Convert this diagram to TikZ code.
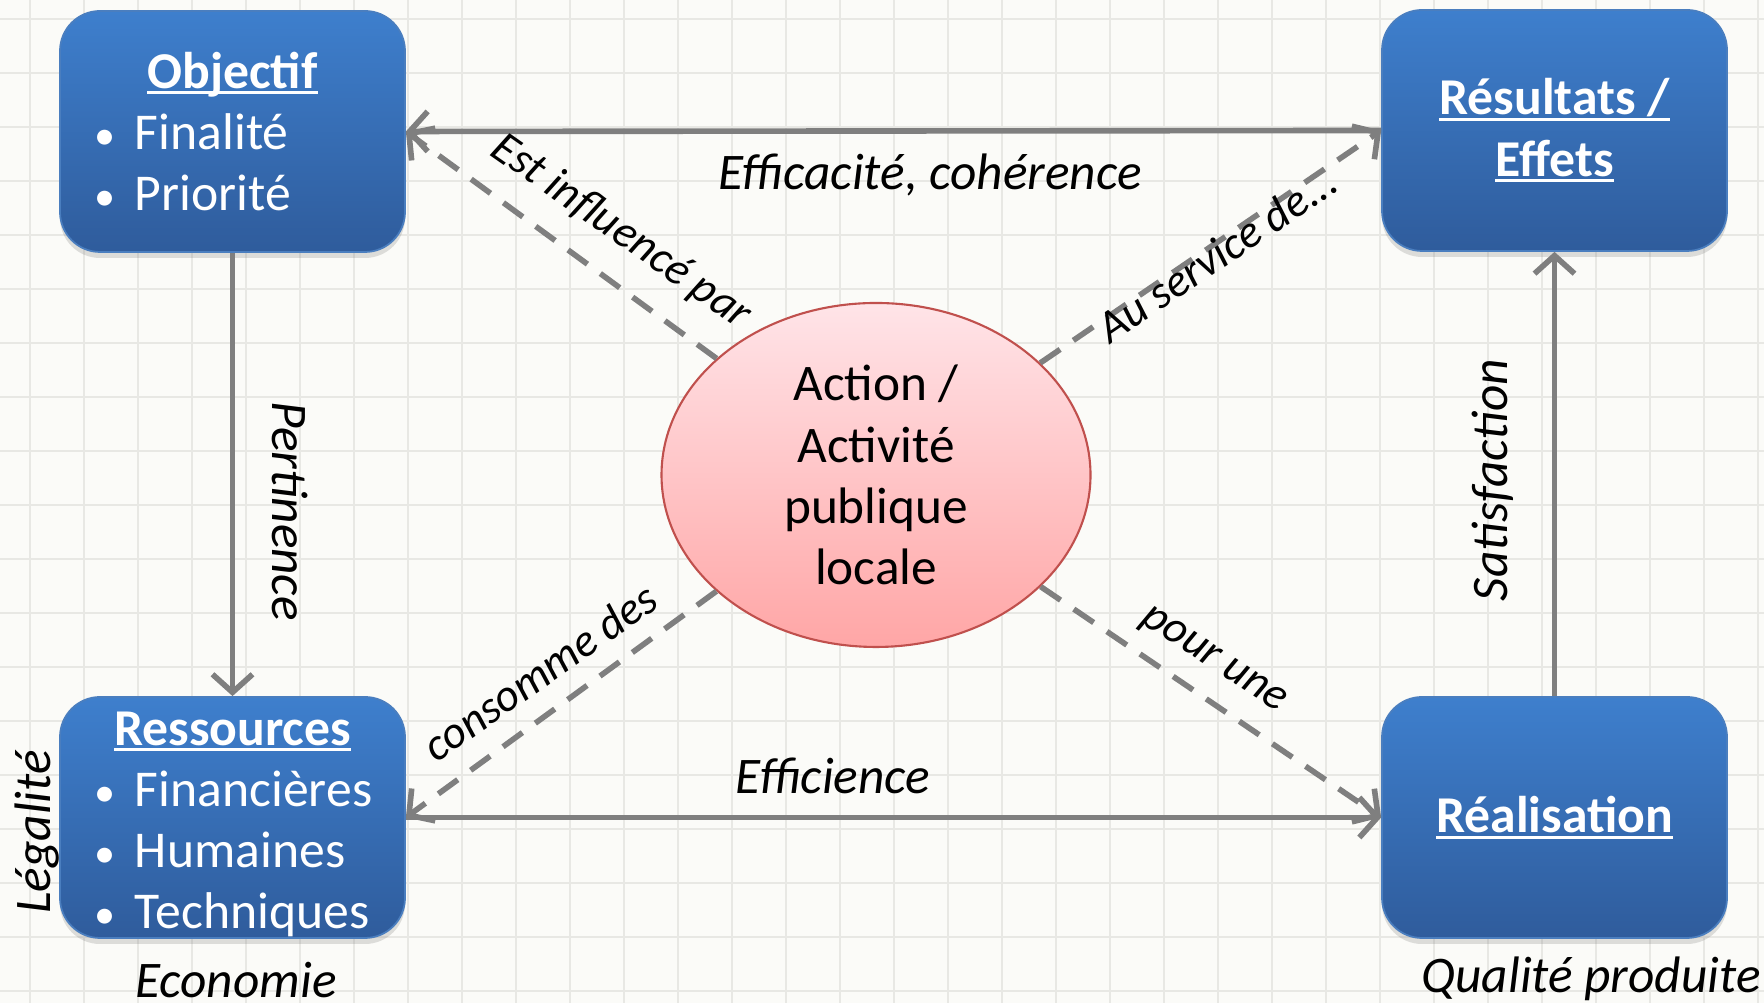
\documentclass[tikz,border=0pt]{standalone}
\usepackage{fontspec}
\setmainfont{Carlito}
\usetikzlibrary{arrows.meta,shapes.geometric,shadows}

\definecolor{fond}{HTML}{FBFBF8}
\definecolor{grillegris}{HTML}{E8E8E4}
\definecolor{bleuhaut}{HTML}{3E7FCD}
\definecolor{bleubas}{HTML}{2F5C9C}
\definecolor{bleubord}{HTML}{4A7EBF}
\definecolor{rosehaut}{HTML}{FFE4E8}
\definecolor{rosebas}{HTML}{FFA6A6}
\definecolor{rougebord}{HTML}{C0504D}
\definecolor{grisfleche}{HTML}{7F7F7F}

\newcommand\titre[1]{\setbox0\hbox{\bfseries#1}\rlap{\rule[-0.12em]{\wd0}{0.06em}}\box0}
\newcommand\puce[1]{\makebox[0.4cm][l]{\fontsize{12}{12}\selectfont\textbullet}#1}

\tikzset{
  grille/.style={draw=grillegris, line width=0.5pt},
  boite/.style={rounded corners=0.4cm, minimum width=3.45cm, minimum height=2.41cm,
    top color=bleuhaut, bottom color=bleubas, draw=bleubord, line width=0.5pt,
    text=white, inner sep=0pt, font=\fontsize{14.7}{17.4}\selectfont,
    drop shadow={shadow xshift=0pt, shadow yshift=-0.06cm, opacity=0.25}},
  liste/.style={boite, text width=2.75cm, align=left},
  bulle/.style={ellipse, minimum width=4.29cm, minimum height=3.44cm, inner sep=0pt,
    top color=rosehaut, bottom color=rosebas, draw=rougebord, line width=0.6pt,
    align=center, font=\fontsize{14.6}{17.4}\selectfont},
  etiq/.style={font=\fontsize{14.6}{16}\selectfont\itshape, inner sep=0pt},
  etiqdiag/.style={font=\fontsize{13}{15}\selectfont\itshape, inner sep=0pt},
  trait/.style={draw=grisfleche, line width=1.6pt},
  tirets/.style={trait, dash pattern=on 0.24cm off 0.16cm}
}

\begin{document}
\begin{tikzpicture}[>={Straight Barb[length=1.8mm,width=4mm]}]
\useasboundingbox (0,0) rectangle (17.64,10.03);
\fill[fond] (0,0) rectangle (17.64,10.03);
\foreach \i in {0,...,32} \draw[grille] ({0.30+0.54*\i},0)--({0.30+0.54*\i},10.03);
\foreach \j in {0,...,18} \draw[grille] (0,{9.84-0.54*\j})--(17.64,{9.84-0.54*\j});

\node[liste] (obj) at (2.325,8.715) {\makebox[2.75cm][c]{\titre{Objectif}}\\ \puce{Finalité}\\ \puce{Priorité}};
\node[boite, align=center] (res) at (15.545,8.725) {\titre{Résultats /}\\ \titre{Effets}};
\node[liste] (ress) at (2.325,1.855) {\makebox[2.75cm][c]{\rule{0pt}{0.47cm}\titre{Ressources}}\\ \puce{Financières}\\ \puce{Humaines}\\ \puce{Techniques}};
\node[boite, align=center] (real) at (15.545,1.855) {\titre{Réalisation}};
\node[bulle] (act) at (8.76,5.28) {Action /\\Activité\\publique\\locale};

\draw[trait,->] (res.west)--(obj.east);
\draw[trait,->] (ress.east)--(real.west);
\draw[trait,->] (obj.south)--(ress.north);
\draw[trait,->] (real.north)--(res.south);
\draw[tirets,->] (act)--(obj.east);
\draw[tirets,->] (act)--(res.west);
\draw[tirets,->] (act)--(ress.east);
\draw[tirets,->] (act)--(real.west);

\node[etiq] (l1) at (9.30,8.28) {Efficacité, cohérence};
\node[etiq] (l2) at (8.33,2.27) {Efficience};
\node[etiq, rotate=-90] (l3) at (2.90,4.92) {Pertinence};
\node[etiq, rotate=90] (l4) at (14.93,5.23) {Satisfaction};
\node[etiq, rotate=90] (l5) at (0.37,1.71) {Légalité};
\node[etiq] (l6) at (2.36,0.23) {Economie};
\node[etiq] (l7) at (15.91,0.24) {Qualité produite};
\node[etiqdiag, rotate=-35] (l8) at (6.21,7.71) {Est influencé par};
\node[etiqdiag, rotate=34] (l9) at (12.17,7.49) {Au service de...};
\node[etiqdiag, rotate=35] (l10) at (5.40,3.31) {consomme des};
\node[etiqdiag, rotate=-33] (l11) at (12.13,3.42) {pour une};
\end{tikzpicture}
\end{document}
